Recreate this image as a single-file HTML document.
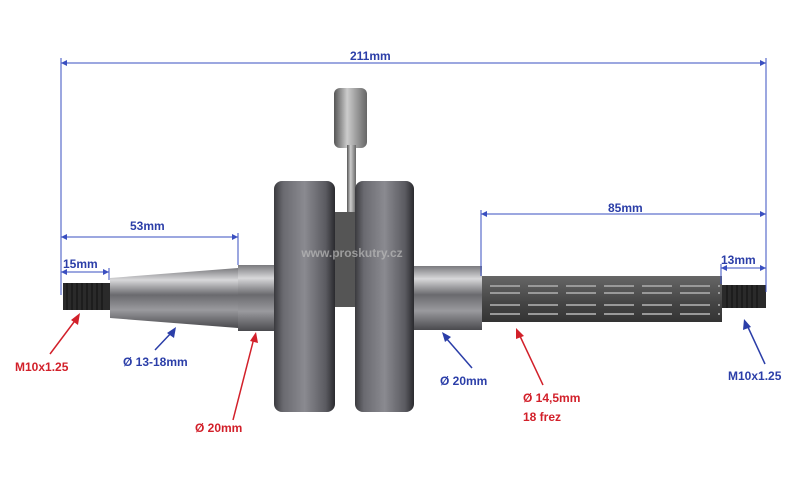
<!DOCTYPE html>
<html><head><meta charset="utf-8"><style>
html,body{margin:0;padding:0;background:#fff;}
svg{display:block;}
text{font-family:"Liberation Sans",sans-serif;font-weight:bold;font-size:12px;}
</style></head><body>
<svg width="800" height="497" viewBox="0 0 800 497" xmlns="http://www.w3.org/2000/svg">
<defs>
<linearGradient id="m" x1="0" y1="0" x2="0" y2="1">
<stop offset="0" stop-color="#7a7a7e"/><stop offset="0.2" stop-color="#d8d8da"/><stop offset="0.45" stop-color="#6a6a6e"/><stop offset="0.7" stop-color="#9a9a9e"/><stop offset="1" stop-color="#4a4a4e"/></linearGradient>
<linearGradient id="d" x1="0" y1="0" x2="0" y2="1">
<stop offset="0" stop-color="#666"/><stop offset="0.3" stop-color="#555"/><stop offset="0.6" stop-color="#444"/><stop offset="1" stop-color="#333"/></linearGradient>
<linearGradient id="disc" x1="0" y1="0" x2="1" y2="0">
<stop offset="0" stop-color="#3a3a3e"/><stop offset="0.15" stop-color="#6a6a70"/><stop offset="0.5" stop-color="#8a8a90"/><stop offset="0.85" stop-color="#5a5a60"/><stop offset="1" stop-color="#2a2a2e"/></linearGradient>
<linearGradient id="rod" x1="0" y1="0" x2="1" y2="0">
<stop offset="0" stop-color="#555"/><stop offset="0.4" stop-color="#ccc"/><stop offset="1" stop-color="#666"/></linearGradient>
</defs>
<rect x="63" y="283" width="47" height="27" fill="#2a2a2a"/>
<g stroke="#000" stroke-width="1" opacity="0.6">
<line x1="67" y1="283" x2="67" y2="310"/><line x1="72" y1="283" x2="72" y2="310"/><line x1="77" y1="283" x2="77" y2="310"/><line x1="82" y1="283" x2="82" y2="310"/><line x1="87" y1="283" x2="87" y2="310"/><line x1="92" y1="283" x2="92" y2="310"/><line x1="97" y1="283" x2="97" y2="310"/><line x1="102" y1="283" x2="102" y2="310"/>
</g>
<polygon points="110,278 238,268 238,328 110,318" fill="url(#m)"/>
<rect x="238" y="265" width="38" height="66" fill="url(#m)"/>
<rect x="412" y="266" width="70" height="64" fill="url(#m)"/>
<rect x="482" y="276" width="240" height="46" fill="url(#d)"/>
<g stroke="#999" stroke-width="2" stroke-dasharray="30,8">
<line x1="490" y1="286" x2="720" y2="286"/><line x1="490" y1="293" x2="720" y2="293"/><line x1="490" y1="305" x2="720" y2="305"/><line x1="490" y1="314" x2="720" y2="314"/>
</g>
<rect x="722" y="285" width="44" height="23" fill="#2a2a2a"/>
<g stroke="#000" stroke-width="1" opacity="0.6">
<line x1="727" y1="285" x2="727" y2="308"/><line x1="732" y1="285" x2="732" y2="308"/><line x1="737" y1="285" x2="737" y2="308"/><line x1="742" y1="285" x2="742" y2="308"/><line x1="747" y1="285" x2="747" y2="308"/><line x1="752" y1="285" x2="752" y2="308"/><line x1="757" y1="285" x2="757" y2="308"/>
</g>
<rect x="334" y="88" width="33" height="60" rx="6" fill="url(#rod)"/>
<rect x="347" y="145" width="9" height="70" fill="url(#rod)"/>
<rect x="334" y="212" width="24" height="95" fill="#555"/>
<rect x="274" y="181" width="61" height="231" rx="8" fill="url(#disc)"/>
<rect x="355" y="181" width="59" height="231" rx="8" fill="url(#disc)"/>
<text x="352" y="257" text-anchor="middle" fill="#bbb" opacity="0.7" font-size="17">www.proskutry.cz</text>
<g stroke="#3a4fc0" stroke-width="1" fill="none">
<line x1="61" y1="63" x2="766" y2="63"/><line x1="61" y1="58" x2="61" y2="295"/><line x1="766" y1="58" x2="766" y2="292"/>
<line x1="61" y1="237" x2="238" y2="237"/><line x1="238" y1="233" x2="238" y2="265"/>
<line x1="61" y1="272" x2="109" y2="272"/><line x1="109" y1="268" x2="109" y2="280"/>
<line x1="481" y1="214" x2="766" y2="214"/><line x1="481" y1="210" x2="481" y2="276"/>
<line x1="721" y1="268" x2="766" y2="268"/><line x1="721" y1="264" x2="721" y2="284"/>
</g>
<g fill="#3a4fc0">
<polygon points="61,63 67,60 67,66"/><polygon points="766,63 760,60 760,66"/>
<polygon points="61,237 67,234 67,240"/><polygon points="238,237 232,234 232,240"/>
<polygon points="61,272 67,269 67,275"/><polygon points="109,272 103,269 103,275"/>
<polygon points="481,214 487,211 487,217"/><polygon points="766,214 760,211 760,217"/>
<polygon points="721,268 727,265 727,271"/><polygon points="766,268 760,265 760,271"/>
</g>
<g fill="#2b3ea8">
<text x="350" y="60">211mm</text>
<text x="130" y="230">53mm</text>
<text x="63" y="268">15mm</text>
<text x="608" y="212">85mm</text>
<text x="721" y="264">13mm</text>
<text x="123" y="366">Ø 13-18mm</text>
<text x="440" y="385">Ø 20mm</text>
<text x="728" y="380">M10x1.25</text>
</g>
<g fill="#d2202a">
<text x="15" y="371">M10x1.25</text>
<text x="195" y="432">Ø 20mm</text>
<text x="523" y="402">Ø 14,5mm</text>
<text x="523" y="421">18 frez</text>
</g>
<g stroke="#d2202a" stroke-width="1.5">
<line x1="50" y1="354" x2="77" y2="318"/><line x1="233" y1="420" x2="254" y2="338"/><line x1="543" y1="385" x2="519" y2="334"/>
</g>
<g fill="#d2202a">
<polygon points="80,313 78,325 71,320"/><polygon points="256,332 258,343 250,341"/><polygon points="516,328 524,336 516,339"/>
</g>
<g stroke="#2b3ea8" stroke-width="1.5">
<line x1="155" y1="350" x2="172" y2="332"/><line x1="472" y1="368" x2="446" y2="338"/><line x1="765" y1="364" x2="747" y2="325"/>
</g>
<g fill="#2b3ea8">
<polygon points="176,327 174,338 167,333"/><polygon points="442,332 451,337 445,342"/><polygon points="744,319 751,327 743,330"/>
</g>
</svg>
</body></html>
